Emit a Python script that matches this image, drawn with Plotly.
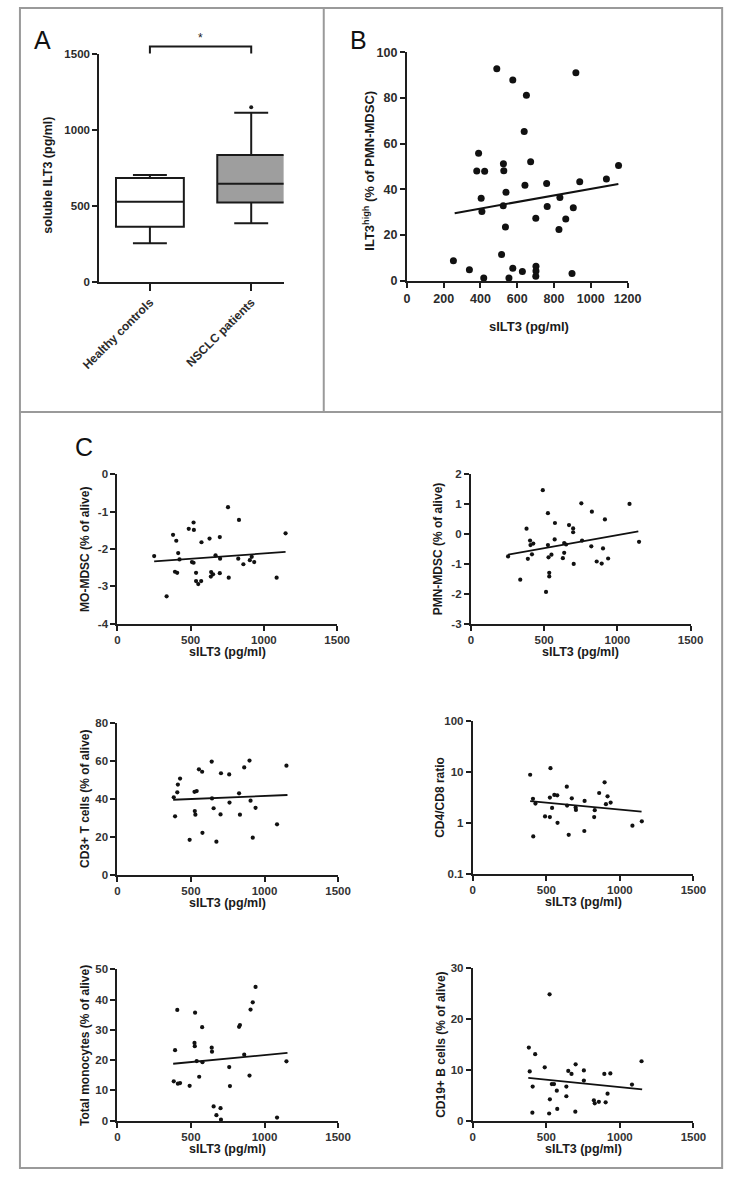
import plotly.graph_objects as go

W, H = 739, 1177
FONT = "Liberation Sans, Arial, sans-serif"

# ---------------- Panel A data ----------------
groups = ["Healthy controls", "NSCLC patients"]
a_pos = [0, 1]
a_low = [254, 385]
a_q1 = [363, 522]
a_median = [528, 646]
a_q3 = [685, 837]
a_high = [704, 1115]
a_outlier_x = [1]
a_outlier_y = [1152]
a_fill = ["#ffffff", "#9e9e9e"]

# ---------------- Panel B data ----------------
b_x = [489, 576, 650, 919, 638, 390, 380, 423, 525, 527, 673, 642, 760, 940, 1085,
       1151, 404, 408, 539, 524, 536, 701, 763, 832, 827, 864, 905, 253, 340, 418,
       515, 576, 555, 628, 702, 702, 701, 898]
b_y = [92.9, 87.9, 81.2, 91.1, 65.4, 55.8, 48.1, 47.9, 51.2, 48.2, 52.1, 41.8, 42.6,
       43.3, 44.6, 50.5, 36.1, 30.3, 38.7, 32.8, 23.5, 27.4, 32.5, 36.5, 22.4, 27.0,
       32.0, 8.7, 4.8, 1.2, 11.5, 5.5, 1.2, 4.0, 6.3, 4.3, 2.0, 3.2]
b_fit_x = [260, 1150]
b_fit_y = [29.6, 42.4]

# ---------------- Panel C data ----------------
mo_x = [251, 336, 380, 393, 402, 408, 415, 424, 487, 520, 522, 509, 520, 537, 537, 552,
        572, 574, 629, 640, 638, 653, 670, 699, 701, 699, 755, 760, 830, 825, 860, 904,
        917, 934, 1087, 1148]
mo_y = [-2.19, -3.27, -1.62, -2.61, -1.78, -2.64, -2.11, -2.28, -1.46, -1.29, -1.49,
        -2.35, -2.37, -2.64, -2.86, -2.94, -2.86, -1.82, -1.72, -2.62, -2.74, -2.68,
        -2.17, -1.68, -2.26, -2.65, -0.88, -2.77, -1.22, -2.26, -2.41, -2.30, -2.21,
        -2.35, -2.77, -1.58]
mo_fit_x = [251, 1148]
mo_fit_y = [-2.33, -2.08]

pmn_x = [254, 337, 380, 389, 404, 407, 417, 426, 491, 513, 526, 526, 530, 535, 535, 550,
         574, 572, 628, 637, 637, 650, 670, 698, 698, 702, 754, 759, 826, 822, 859, 893,
         902, 915, 937, 1083, 1148]
pmn_y = [-0.75, -1.53, 0.18, -0.83, -0.22, -0.37, -0.68, -0.32, 1.47, -1.94, 0.70, -0.37,
         -0.78, -1.30, -1.42, -0.69, 0.37, -0.18, -0.81, -0.30, -0.63, -0.35, 0.30, 0.19,
         0.06, -1.00, 1.03, -0.22, 0.75, -0.41, -0.92, -0.99, -0.48, 0.49, -0.82, 1.01,
         -0.26]
pmn_fit_x = [254, 1143]
pmn_fit_y = [-0.69, 0.09]

cd3_x = [383, 392, 407, 411, 426, 491, 524, 539, 526, 530, 554, 576, 578, 641, 643, 654,
         673, 704, 701, 760, 762, 827, 833, 862, 898, 905, 939, 920, 1085, 1149]
cd3_y = [40.9, 30.8, 43.5, 47.6, 50.8, 18.4, 43.8, 44.2, 33.6, 31.7, 55.7, 54.4, 22.1,
         59.8, 40.3, 35.1, 17.4, 53.6, 31.8, 53.0, 38.1, 43.0, 31.7, 56.7, 60.3, 39.1,
         35.3, 19.5, 26.6, 57.6]
cd3_fit_x = [379, 1156]
cd3_fit_y = [39.6, 42.1]

cd48_x = [390, 409, 426, 411, 491, 524, 528, 524, 539, 554, 574, 576, 639, 641, 652, 673,
          699, 701, 760, 758, 829, 825, 859, 896, 905, 916, 937, 1085, 1149]
cd48_y = [8.87, 2.97, 2.40, 0.54, 1.34, 1.30, 11.97, 3.15, 1.97, 3.55, 3.49, 1.00, 5.16,
          2.19, 0.58, 3.05, 2.00, 1.80, 2.71, 0.69, 1.78, 1.30, 3.88, 6.28, 2.33, 3.34,
          2.51, 0.88, 1.07]
cd48_fit_x = [390, 1147]
cd48_fit_y = [2.67, 1.67]

mono_x = [383, 392, 407, 411, 426, 491, 528, 524, 526, 539, 556, 576, 578, 641, 643, 654,
          673, 701, 704, 760, 765, 827, 833, 862, 905, 920, 939, 898, 1085, 1149]
mono_y = [13.0, 23.3, 36.6, 12.2, 12.4, 11.5, 35.7, 25.7, 24.6, 19.7, 14.5, 30.9, 19.3,
          24.1, 22.8, 4.7, 1.8, 4.1, 0.3, 17.7, 11.4, 31.0, 31.6, 21.8, 36.7, 39.1, 44.2,
          14.9, 1.0, 19.6]
mono_fit_x = [379, 1156]
mono_fit_y = [18.8, 22.4]

cd19_x = [381, 387, 407, 405, 424, 489, 522, 524, 519, 537, 552, 571, 574, 636, 636, 649,
          671, 697, 699, 755, 755, 823, 829, 857, 894, 903, 916, 935, 1082, 1147]
cd19_y = [14.4, 9.7, 6.7, 1.56, 13.1, 10.5, 24.9, 4.2, 1.4, 7.2, 7.2, 5.9, 2.3, 6.7, 4.8,
          9.8, 9.2, 1.75, 11.1, 9.9, 7.9, 4.0, 3.4, 3.7, 9.2, 3.6, 5.3, 9.3, 7.1, 11.7]
cd19_fit_x = [377, 1151]
cd19_fit_y = [8.44, 6.17]

x_title = "sILT3 (pg/ml)"

# ---------------- helpers ----------------
def dx(a, b):
    return [a / W, b / W]

def dy(top, bottom):
    return [1 - bottom / H, 1 - top / H]

def px_x(v):
    return v / W

def px_y(v):
    return 1 - v / H

def ax(size=11, color="#2b2b2b", **kw):
    d = dict(showline=True, linecolor="#1e1e1e", linewidth=2, ticks="outside",
             ticklen=5, tickwidth=2, tickcolor="#1e1e1e", showgrid=False,
             zeroline=False, fixedrange=True,
             tickfont=dict(family=FONT, size=size, color=color, weight="bold"))
    d.update(kw)
    return d

fig = go.Figure()
layout = dict(width=W, height=H, margin=dict(l=0, r=0, t=0, b=0),
              paper_bgcolor="white", plot_bgcolor="white", showlegend=False)

# ---------------- Panel A ----------------
A_XR = [-0.5, 1.32]
A_XPX = (84, 277)
for i in range(2):
    fig.add_trace(go.Box(
        x=[a_pos[i]], q1=[a_q1[i]], median=[a_median[i]], q3=[a_q3[i]],
        lowerfence=[a_low[i]], upperfence=[a_high[i]],
        width=0.67, whiskerwidth=0.5, fillcolor=a_fill[i],
        line=dict(color="#1a1a1a", width=2), boxpoints=False,
        xaxis="x", yaxis="y", hoverinfo="skip"))
fig.add_trace(go.Scatter(x=a_outlier_x, y=a_outlier_y, mode="markers",
                         marker=dict(size=4, color="#1a1a1a"), cliponaxis=False,
                         xaxis="x", yaxis="y"))
layout["xaxis"] = ax(size=12, anchor="y", domain=dx(*A_XPX), range=A_XR,
                     tickvals=a_pos, ticktext=groups, tickangle=-45, ticklen=7)
layout["yaxis"] = ax(size=11.5, anchor="x", domain=dy(48, 278), range=[0, 1500],
                     tickvals=[0, 500, 1000, 1500])

# ---------------- Panel B ----------------
fig.add_trace(go.Scatter(x=b_x, y=b_y, mode="markers", cliponaxis=False,
                         marker=dict(size=7, color="#111"), xaxis="x2", yaxis="y2"))
fig.add_trace(go.Scatter(x=b_fit_x, y=b_fit_y, mode="lines",
                         line=dict(color="#111", width=2), xaxis="x2", yaxis="y2"))
layout["xaxis2"] = ax(size=12.5, anchor="y2", domain=dx(406, 637), range=[0, 1200],
                      tickvals=[0, 200, 400, 600, 800, 1000, 1200])
layout["yaxis2"] = ax(size=12.5, anchor="x2", domain=dy(46, 277), range=[0, 100],
                      tickvals=[0, 20, 40, 60, 80, 100])

# ---------------- Panel C ----------------
c_panels = [
    (mo_x, mo_y, mo_fit_x, mo_fit_y, (103, 333), (473, 624), [-4, 0],
     [0, -1, -2, -3, -4], ["0", "-1", "-2", "-3", "-4"], "MO-MDSC (% of alive)", False),
    (pmn_x, pmn_y, pmn_fit_x, pmn_fit_y, (473, 703), (473, 624), [-3, 2],
     [2, 1, 0, -1, -2, -3], ["2", "1", "0", "-1", "-2", "-3"], "PMN-MDSC (% of alive)", False),
    (cd3_x, cd3_y, cd3_fit_x, cd3_fit_y, (103, 334), (725, 878), [0, 80],
     [0, 20, 40, 60, 80], ["0", "20", "40", "60", "80"], "CD3+ T cells (% of alive)", False),
    (cd48_x, cd48_y, cd48_fit_x, cd48_fit_y, (475, 706), (723, 877), [-1, 2],
     [0.1, 1, 10, 100], ["0.1", "1", "10", "100"], "CD4/CD8 ratio", True),
    (mono_x, mono_y, mono_fit_x, mono_fit_y, (103, 334), (974, 1127), [0, 50],
     [0, 10, 20, 30, 40, 50], ["0", "10", "20", "30", "40", "50"], "Total monocytes (% of alive)", False),
    (cd19_x, cd19_y, cd19_fit_x, cd19_fit_y, (475, 706), (973, 1127), [0, 30],
     [0, 10, 20, 30], ["0", "10", "20", "30"], "CD19+ B cells (% of alive)", False),
]

annotations = []
for k, (xs, ys, fx, fy, xd, yd, yr, tv, tt, ytitle, is_log) in enumerate(c_panels):
    n = k + 3
    xa, ya = f"x{n}", f"y{n}"
    fig.add_trace(go.Scatter(x=xs, y=ys, mode="markers", cliponaxis=False,
                             marker=dict(size=4.2, color="#111"), xaxis=xa, yaxis=ya))
    fig.add_trace(go.Scatter(x=fx, y=fy, mode="lines",
                             line=dict(color="#111", width=1.8), xaxis=xa, yaxis=ya))
    layout[f"xaxis{n}"] = ax(size=11.5, color="#333", anchor=ya, domain=dx(*xd),
                             range=[0, 1500], tickvals=[0, 500, 1000, 1500], linewidth=2)
    yk = ax(size=11.5, color="#333", anchor=xa, domain=dy(*yd), range=yr,
            tickvals=tv, ticktext=tt)
    if is_log:
        yk["type"] = "log"
    layout[f"yaxis{n}"] = yk
    xc = (xd[0] + xd[1]) / 2
    yc = (yd[0] + yd[1]) / 2
    annotations.append(dict(text=x_title, xref="paper", yref="paper",
                            x=px_x(xc), y=px_y(yd[1] + 29), showarrow=False,
                            xanchor="center", yanchor="middle",
                            font=dict(family=FONT, size=12.5, color="#1a1a1a", weight="bold")))
    annotations.append(dict(text=ytitle, xref="paper", yref="paper",
                            x=px_x(xd[0] - 34), y=px_y(yc), showarrow=False, textangle=-90,
                            xanchor="center", yanchor="middle",
                            font=dict(family=FONT, size=12, color="#1a1a1a", weight="bold")))

annotations += [
    dict(text="soluble ILT3 (pg/ml)", xref="paper", yref="paper", x=px_x(30), y=px_y(170),
         showarrow=False, textangle=-90, xanchor="center", yanchor="middle",
         font=dict(family=FONT, size=12.5, color="#1a1a1a", weight="bold")),
    dict(text="ILT3<sup>high</sup> (% of PMN-MDSC)", xref="paper", yref="paper",
         x=px_x(366), y=px_y(166), showarrow=False, textangle=-90,
         xanchor="center", yanchor="middle",
         font=dict(family=FONT, size=13, color="#1a1a1a", weight="bold")),
    dict(text=x_title, xref="paper", yref="paper", x=px_x(534), y=px_y(323),
         showarrow=False, xanchor="center", yanchor="middle",
         font=dict(family=FONT, size=13, color="#1a1a1a", weight="bold")),
    dict(text="A", xref="paper", yref="paper", x=px_x(25), y=px_y(33), showarrow=False,
         xanchor="center", yanchor="middle", font=dict(family=FONT, size=25, color="#111")),
    dict(text="B", xref="paper", yref="paper", x=px_x(355), y=px_y(33), showarrow=False,
         xanchor="center", yanchor="middle", font=dict(family=FONT, size=25, color="#111")),
    dict(text="C", xref="paper", yref="paper", x=px_x(68), y=px_y(445), showarrow=False,
         xanchor="center", yanchor="middle", font=dict(family=FONT, size=25, color="#111")),
]

def a_cat_px(c):
    return A_XPX[0] + (c - A_XR[0]) / (A_XR[1] - A_XR[0]) * (A_XPX[1] - A_XPX[0])

bx0, bx1 = a_cat_px(a_pos[0]), a_cat_px(a_pos[1])
shapes = [
    dict(type="path", xref="paper", yref="paper",
         path=(f"M {px_x(bx0)} {px_y(47)} L {px_x(bx0)} {px_y(40)} "
               f"L {px_x(bx1)} {px_y(40)} L {px_x(bx1)} {px_y(47)}"),
         line=dict(color="#1a1a1a", width=2)),
]
annotations.append(dict(text="*", xref="paper", yref="paper", x=px_x((bx0 + bx1) / 2),
                        y=px_y(31), showarrow=False, xanchor="center", yanchor="middle",
                        font=dict(family=FONT, size=12, color="#1a1a1a")))

border = dict(color="#9a9a9a", width=2)
shapes += [
    dict(type="rect", xref="paper", yref="paper", x0=px_x(1), x1=px_x(736),
         y0=px_y(1), y1=px_y(1175), line=border),
    dict(type="line", xref="paper", yref="paper", x0=px_x(319), x1=px_x(319),
         y0=px_y(1), y1=px_y(410), line=border),
    dict(type="line", xref="paper", yref="paper", x0=px_x(1), x1=px_x(736),
         y0=px_y(410), y1=px_y(410), line=border),
]

layout["annotations"] = annotations
layout["shapes"] = shapes
fig.update_layout(**layout)
fig.write_html("out.html", config={"displayModeBar": False},
               post_script="document.body.style.margin='0';document.body.style.padding='0';")
